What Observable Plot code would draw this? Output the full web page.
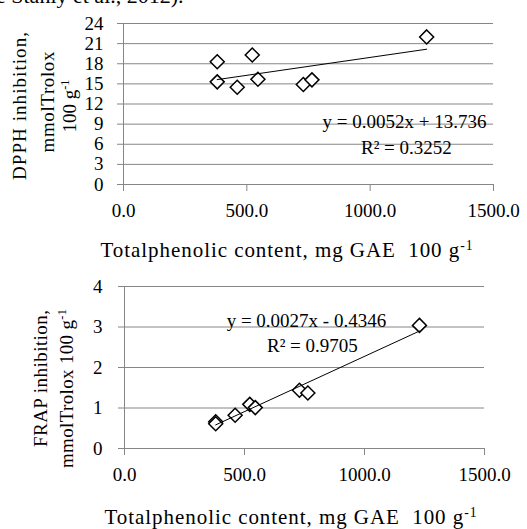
<!DOCTYPE html>
<html><head><meta charset="utf-8">
<script src="https://cdn.jsdelivr.net/npm/d3@7"></script>
<script src="https://cdn.jsdelivr.net/npm/@observablehq/plot@0.6"></script>
<style>
html,body{margin:0;padding:0;background:#fff;}
#wrap{position:relative;width:527px;height:529px;overflow:hidden;font-family:"Liberation Serif","Times New Roman",serif;}
#wrap svg, #wrap svg text{font-family:"Liberation Serif","Times New Roman",serif !important;}
#cut{position:absolute;left:-4px;top:-17px;font-size:22px;white-space:nowrap;line-height:26px;color:#000;}
#top{position:absolute;left:0;top:0;}
#bottom{position:absolute;left:0;top:265px;}
</style></head><body>
<div id="wrap"><div id="top"></div><div id="bottom"></div><div id="cut">e Stanly et al., 2012).</div></div>
<script>
// ---- data ----
const phenolic = [380, 380, 461, 522, 545, 729, 764, 1229];
const dpph = [18.3, 15.3, 14.5, 19.3, 15.7, 14.9, 15.6, 22.0];
const frap = [0.66, 0.61, 0.82, 1.09, 1.01, 1.44, 1.37, 3.04];
const xTicks = [0, 500, 1000, 1500];
const dpphTicks = [0, 3, 6, 9, 12, 15, 18, 21, 24];
const frapTicks = [0, 1, 2, 3, 4];
const xTitle = "Totalphenolic content, mg GAE  100 g-1";
const dpphTitle = ["DPPH inhibition,", "mmolTrolox", "100 g-1"];
const frapTitle = ["FRAP inhibition,", "mmolTrolox 100 g-1"];
const dpphEq = ["y = 0.0052x + 13.736", "R² = 0.3252"];
const frapEq = ["y = 0.0027x - 0.4346", "R² = 0.9705"];

const FONT = '"Liberation Serif","Times New Roman",serif';
const GRID = "#868686";
const fmt = d3.format(".1f");
const titleLengths = {
  [xTitle]: 372,
  "DPPH inhibition,": 148,
  "mmolTrolox": 101,
  "FRAP inhibition,": 137,
  "mmolTrolox 100 g-1": 159
};

function finish(svg) {
  d3.select(svg).selectAll("text").each(function () {
    const t = this.textContent;
    const target = titleLengths[t];
    if (t.endsWith("g-1")) {
      const sel = d3.select(this);
      sel.text(null);
      sel.append("tspan").text(t.slice(0, -2));
      sel.append("tspan").attr("baseline-shift", "super").attr("font-size", "0.65em").text("-1");
    }
    if (target) {
      this.setAttribute("textLength", target);
      this.setAttribute("lengthAdjust", "spacing");
    }
  });
  return svg;
}

const txt = (s, o) => Plot.text([s], {text: d => d, textAnchor: "middle", lineAnchor: "middle", fill: "#000", fontFamily: FONT, ...o});

// ---- top chart ----
const topData = phenolic.map((x, i) => ({x, y: dpph[i]}));
const topPlot = Plot.plot({
  width: 527, height: 265,
  marginLeft: 123, marginRight: 34, marginTop: 23, marginBottom: 81,
  style: {fontFamily: FONT, fontSize: "19px", color: "#000", background: "#fff", overflow: "visible"},
  x: {domain: [0, 1500], label: null},
  y: {domain: [0, 24], label: null},
  marks: [
    Plot.gridY(dpphTicks, {stroke: GRID, strokeOpacity: 1}),
    Plot.ruleX([0], {stroke: GRID}),
    Plot.ruleY([0], {stroke: GRID}),
    Plot.axisX(xTicks, {tickSize: 7, tickPadding: 12, stroke: GRID, tickFormat: fmt, label: null, fontSize: 19}),
    Plot.axisY(dpphTicks, {tickSize: 6, tickPadding: 14, stroke: GRID, label: null, fontSize: 19}),
    Plot.dot(topData, {x: "x", y: "y", symbol: "diamond2", r: 6.3, stroke: "#000", strokeWidth: 1.5, fill: "#fff"}),
    Plot.linearRegressionY(topData, {x: "x", y: "y", stroke: "#000", strokeWidth: 1, ci: 0}),
    txt(dpphEq[0], {x: 1139, y: 9.3, fontSize: 19}),
    txt(dpphEq[1], {x: 1147, y: 5.5, fontSize: 19}),
    txt(xTitle, {frameAnchor: "bottom", dx: -22, dy: 66, fontSize: 21}),
    txt(dpphTitle[0], {frameAnchor: "left", rotate: -90, dx: -104, dy: 2, fontSize: 19}),
    txt(dpphTitle[1], {frameAnchor: "left", rotate: -90, dx: -76, dy: -2, fontSize: 19}),
    txt(dpphTitle[2], {frameAnchor: "left", rotate: -90, dx: -54, dy: 2, fontSize: 19})
  ]
});
document.getElementById("top").append(finish(topPlot));

// ---- bottom chart ----
const botData = phenolic.map((x, i) => ({x, y: frap[i]}));
const botPlot = Plot.plot({
  width: 527, height: 264,
  marginLeft: 124, marginRight: 43, marginTop: 21, marginBottom: 81,
  style: {fontFamily: FONT, fontSize: "19px", color: "#000", background: "#fff", overflow: "visible"},
  x: {domain: [0, 1500], label: null},
  y: {domain: [0, 4], label: null},
  marks: [
    Plot.gridY(frapTicks, {stroke: GRID, strokeOpacity: 1}),
    Plot.ruleX([0], {stroke: GRID}),
    Plot.ruleY([0], {stroke: GRID}),
    Plot.axisX(xTicks, {tickSize: 7, tickPadding: 12, stroke: GRID, tickFormat: fmt, label: null, fontSize: 19}),
    Plot.axisY(frapTicks, {tickSize: 6, tickPadding: 16, stroke: GRID, label: null, fontSize: 19}),
    Plot.dot(botData, {x: "x", y: "y", symbol: "diamond2", r: 6.3, stroke: "#000", strokeWidth: 1.5, fill: "#fff"}),
    Plot.linearRegressionY(botData, {x: "x", y: "y", stroke: "#000", strokeWidth: 1, ci: 0}),
    txt(frapEq[0], {x: 758, y: 3.16, fontSize: 19}),
    txt(frapEq[1], {x: 783, y: 2.54, fontSize: 19}),
    txt(xTitle, {frameAnchor: "bottom", dx: -14, dy: 69, fontSize: 21}),
    txt(frapTitle[0], {frameAnchor: "left", rotate: -90, dx: -84, dy: 11, fontSize: 19}),
    txt(frapTitle[1], {frameAnchor: "left", rotate: -90, dx: -58, dy: 21, fontSize: 19})
  ]
});
document.getElementById("bottom").append(finish(botPlot));
</script>
</body></html>
